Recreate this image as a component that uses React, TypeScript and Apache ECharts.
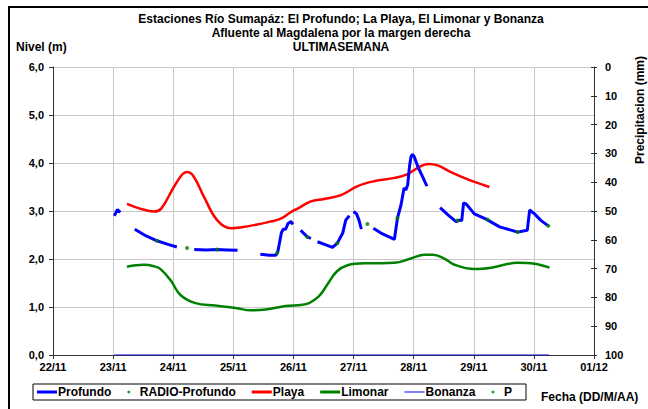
import React, { useEffect, useRef } from "react";
import * as echarts from "echarts";

// X positions are in days after 22/11 (0 = 22/11, 9 = 01/12)
const dayLabels = ["22/11", "23/11", "24/11", "25/11", "26/11", "27/11", "28/11", "29/11", "30/11", "01/12"];
const titleLines = [
  "Estaciones Río Sumapáz: El Profundo; La Playa, El Limonar y Bonanza",
  "Afluente al Magdalena por la margen derecha",
  "ULTIMASEMANA",
];

const profundoSegA = [[1.02, 2.9], [1.07, 3.03], [1.12, 2.97]];
const profundoSegB = [[1.36, 2.62], [1.55, 2.48], [1.73, 2.38], [1.9, 2.31], [2.06, 2.25]];
const profundoSegC = [[2.35, 2.2], [2.55, 2.19], [2.73, 2.2], [2.9, 2.19], [3.07, 2.18]];
const profundoSegD = [[3.45, 2.1], [3.6, 2.08], [3.71, 2.08], [3.74, 2.15], [3.8, 2.55], [3.83, 2.62], [3.87, 2.62], [3.91, 2.74], [3.96, 2.78], [3.99, 2.72]];
const profundoSegE = [[4.12, 2.6], [4.23, 2.46], [4.29, 2.43]];
const profundoSegF = [[4.4, 2.36], [4.55, 2.29], [4.65, 2.24], [4.73, 2.33], [4.82, 2.54], [4.87, 2.81], [4.93, 2.9]];
const profundoSegG = [[5.0, 2.99], [5.05, 2.94], [5.09, 2.81], [5.13, 2.62]];
const profundoSegH = [[5.33, 2.64], [5.455, 2.54], [5.68, 2.41], [5.73, 2.85], [5.79, 3.13], [5.84, 3.48], [5.87, 3.44], [5.9, 3.54], [5.93, 3.92], [5.955, 4.13], [5.98, 4.18], [6.01, 4.13], [6.07, 3.92], [6.15, 3.71], [6.22, 3.52]];
const profundoSegI = [[6.44, 3.07], [6.57, 2.92], [6.705, 2.78], [6.76, 2.81], [6.8, 2.8], [6.83, 3.17], [6.87, 3.15], [7.01, 2.94], [7.205, 2.83], [7.43, 2.67], [7.73, 2.56], [7.89, 2.6], [7.93, 3.02], [8.01, 2.94], [8.12, 2.8], [8.24, 2.69]];
const profundoSegments = [profundoSegA, profundoSegB, profundoSegC, profundoSegD, profundoSegE, profundoSegF, profundoSegG, profundoSegH, profundoSegI];

const radioProfundo = [[1.73, 2.38], [2.23, 2.23], [2.73, 2.2], [3.73, 2.13], [4.23, 2.46], [4.73, 2.33], [5.23, 2.73], [5.73, 2.85], [6.73, 2.8], [7.23, 2.82], [7.73, 2.56], [8.24, 2.69]];

const playa = [[1.23, 3.15], [1.45, 3.05], [1.68, 2.99], [1.8, 3.05], [2.01, 3.5], [2.15, 3.76], [2.23, 3.81], [2.34, 3.72], [2.51, 3.3], [2.73, 2.81], [2.96, 2.64], [3.23, 2.68], [3.62, 2.78], [3.79, 2.84], [3.96, 2.98], [4.07, 3.05], [4.29, 3.2], [4.51, 3.25], [4.79, 3.33], [5.07, 3.52], [5.34, 3.62], [5.68, 3.69], [5.9, 3.77], [6.07, 3.9], [6.24, 3.98], [6.4, 3.95], [6.62, 3.81], [6.9, 3.66], [7.26, 3.5]];

const limonar = [[1.23, 1.84], [1.51, 1.88], [1.68, 1.85], [1.79, 1.79], [1.96, 1.55], [2.12, 1.25], [2.37, 1.08], [2.7, 1.03], [3.04, 0.98], [3.29, 0.93], [3.54, 0.95], [3.87, 1.02], [4.21, 1.06], [4.42, 1.22], [4.57, 1.48], [4.72, 1.74], [4.9, 1.87], [5.18, 1.91], [5.455, 1.91], [5.68, 1.92], [5.955, 2.01], [6.18, 2.09], [6.32, 2.09], [6.51, 2.01], [6.68, 1.88], [7.01, 1.79], [7.29, 1.82], [7.73, 1.92], [8.01, 1.9], [8.26, 1.82]];

const bonanza = [[1.02, 0], [8.25, 0]];
const precipitacion: number[][] = [];

function joinSegments(segs: number[][][]) {
  const out: any[] = [];
  segs.forEach((s, i) => {
    if (i > 0) out.push([(segs[i - 1][segs[i - 1].length - 1][0] + s[0][0]) / 2, null]);
    s.forEach((p) => out.push(p));
  });
  return out;
}

const FONT = "Arial, 'Liberation Sans', sans-serif";
const bold = { fontFamily: FONT, fontWeight: "bold" as const, color: "#000", fontSize: 11 };
const thinLineIcon = "path://M0,0H0.01V0.01H0Z M0,1H20V2H0Z M0,3H0.01V2.99H0Z";
const titleY = [18.5, 32.5, 46.5];

export default function App() {
  const ref = useRef<HTMLDivElement>(null);
  useEffect(() => {
    if (!ref.current) return;
    const chart = echarts.init(ref.current, undefined, { renderer: "svg" });
    chart.setOption({
      animation: false,
      backgroundColor: "#fff",
      grid: { left: 53, right: 54, top: 67, bottom: 54 },
      legend: {
        left: 33,
        top: 384,
        orient: "horizontal",
        borderColor: "#000",
        borderWidth: 1,
        borderRadius: 0,
        padding: [2, 14, 2, 4],
        itemGap: 16,
        itemWidth: 20,
        itemHeight: 3,
        textStyle: { ...bold, fontSize: 12, padding: [0, 0, 0, -4] },
        data: [
          { name: "Profundo", icon: "rect" },
          { name: "RADIO-Profundo", icon: "circle" },
          { name: "Playa", icon: "rect" },
          { name: "Limonar", icon: "rect" },
          { name: "Bonanza", icon: thinLineIcon },
          { name: "P", icon: "circle" },
        ],
      },
      xAxis: {
        type: "value",
        min: 0,
        max: 9,
        interval: 1,
        axisLine: { show: true, lineStyle: { color: "#333", width: 1 } },
        axisTick: { show: true, length: 4, lineStyle: { color: "#333" } },
        axisLabel: { ...bold, margin: 6, formatter: (v: number) => dayLabels[Math.round(v)] },
        splitLine: { show: true, lineStyle: { color: "#c8c8c8", width: 1 } },
      },
      yAxis: [
        {
          type: "value",
          min: 0,
          max: 6,
          interval: 1,
          position: "left",
          axisLine: { show: true, lineStyle: { color: "#333" } },
          axisTick: { show: true, length: 4, lineStyle: { color: "#333" } },
          axisLabel: { ...bold, margin: 9, formatter: (v: number) => v.toFixed(1).replace(".", ",") },
          splitLine: { show: true, lineStyle: { color: "#c8c8c8", width: 1 } },
        },
        {
          type: "value",
          min: 0,
          max: 100,
          interval: 10,
          inverse: true,
          position: "right",
          axisLine: { show: true, lineStyle: { color: "#333" } },
          axisTick: { show: true, length: 3, lineStyle: { color: "#333" } },
          axisLabel: { ...bold, margin: 11 },
          splitLine: { show: false },
        },
        {
          type: "value",
          min: 0,
          max: 100,
          interval: 10,
          inverse: true,
          position: "right",
          axisLine: { show: false },
          axisTick: { show: true, inside: true, length: 3, lineStyle: { color: "#333" } },
          axisLabel: { show: false },
          splitLine: { show: false },
        },
      ],
      graphic: [
        { type: "rect", shape: { x: 8, y: 6, width: 640, height: 2 }, style: { fill: "#000" } },
        { type: "rect", shape: { x: 8, y: 6, width: 2, height: 403 }, style: { fill: "#000" } },
        ...titleLines.map((t, i) => ({
          type: "text",
          x: 341,
          y: titleY[i],
          style: { text: t, fill: "#000", font: `bold 12px ${FONT}`, align: "center", verticalAlign: "middle" },
        })),
        { type: "text", x: 16, y: 47, style: { text: "Nivel (m)", fill: "#000", font: `bold 12px ${FONT}`, verticalAlign: "middle" } },
        { type: "text", x: 541, y: 397, style: { text: "Fecha (DD/M/AA)", fill: "#000", font: `bold 12px ${FONT}`, verticalAlign: "middle" } },
        { type: "text", x: 640, y: 110, rotation: Math.PI / 2, style: { text: "Precipitacion (mm)", fill: "#000", font: `bold 12px ${FONT}`, align: "center", verticalAlign: "middle" } },
      ],
      series: [
        {
          name: "Profundo",
          type: "line",
          data: joinSegments(profundoSegments),
          symbol: "none",
          connectNulls: false,
          lineStyle: { color: "#0000ff", width: 3 },
          itemStyle: { color: "#0000ff" },
          z: 3,
        },
        {
          name: "RADIO-Profundo",
          type: "scatter",
          data: radioProfundo,
          symbol: "circle",
          symbolSize: 4,
          itemStyle: { color: "#008000" },
          z: 5,
        },
        {
          name: "Playa",
          type: "line",
          data: playa,
          smooth: 0.4,
          symbol: "none",
          lineStyle: { color: "#ff0000", width: 2.5 },
          itemStyle: { color: "#ff0000" },
          z: 2,
        },
        {
          name: "Limonar",
          type: "line",
          data: limonar,
          smooth: 0.4,
          symbol: "none",
          lineStyle: { color: "#008000", width: 2.5 },
          itemStyle: { color: "#008000" },
          z: 2,
        },
        {
          name: "Bonanza",
          type: "line",
          data: bonanza,
          symbol: "none",
          lineStyle: { color: "#0000ff", width: 1 },
          itemStyle: { color: "#0000ff" },
          z: 4,
        },
        {
          name: "P",
          type: "scatter",
          yAxisIndex: 1,
          data: precipitacion,
          symbolSize: 3,
          itemStyle: { color: "#008000" },
        },
      ],
    });
    return () => chart.dispose();
  }, []);
  return <div ref={ref} style={{ position: "fixed", left: 0, top: 0, width: 648, height: 409 }} />;
}
